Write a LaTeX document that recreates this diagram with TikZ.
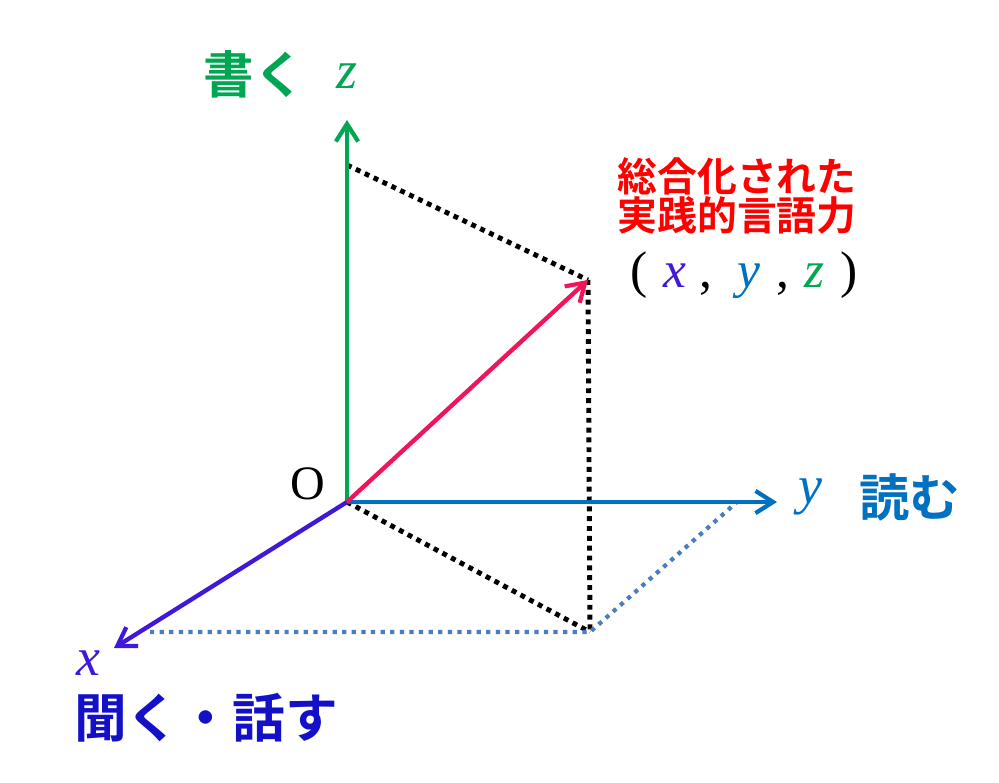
\documentclass[tikz,border=0pt]{standalone}
\usepackage{fontspec}
\setmainfont{Liberation Serif}
\newfontfamily\jp{Noto Sans CJK JP}[BoldFont={Noto Sans CJK JP Bold}]
\usetikzlibrary{arrows.meta, positioning}
\definecolor{zgreen}{RGB}{0,166,81}
\definecolor{yblue}{RGB}{0,112,192}
\definecolor{xviolet}{RGB}{64,24,216}
\definecolor{kblue}{RGB}{20,16,200}
\definecolor{vecred}{RGB}{240,20,90}
\definecolor{dotblue}{RGB}{74,126,187}
\tikzstyle{axis} = [line width=3.7pt, -{Straight Barb[length=15pt,width=19pt,line width=3.6pt]}]
\tikzstyle{guide} = [line width=4.2pt, dash pattern=on 4.2pt off 4.2pt, black]
\tikzstyle{guideb} = [guide, dotblue, line width=3.6pt, dash pattern=on 3.6pt off 4.6pt]
\tikzstyle{word} = [font=\jp\bfseries\fontsize{43}{50}\selectfont, inner sep=0pt]
\tikzstyle{var} = [font=\fontsize{46}{50}\selectfont\itshape, inner sep=0pt]
\begin{document}
\begin{tikzpicture}[x=0.03cm, y=-0.03cm]
				\useasboundingbox (0,0) rectangle (999,783);
				\coordinate (o) at (347,502);
				\coordinate (ztip) at (347,120);
				\coordinate (ytip) at (777,502);
				\coordinate (xtip) at (114,648);
				\coordinate (zfoot) at (347,165);
				\coordinate (p) at (588,280);
				\coordinate (q) at (590,632);
				\coordinate (xfoot) at (150,632);
				\coordinate (yfoot) at (737,502);
				% projections
				\draw [guide] (zfoot) -- (p);
				\draw [guide] (p) -- (q);
				\draw [guide] (o) -- (q);
				\draw [guideb] (xfoot) -- (q) -- (yfoot);
				% axes and vector
				\draw [axis, zgreen] (o) -- (ztip);
				\draw [axis, yblue] (o) -- (ytip);
				\draw [axis, xviolet] (o) -- (xtip);
				\draw [axis, vecred] (o) -- (p);
				% labels
				\node (origin)[font=\fontsize{41}{44}\selectfont, inner sep=0pt] at (308,484) {O};
				\node (zvar)[var, zgreen] at (347,76) {z};
				\node (write)[word, zgreen] at (254,74) {書く};
				\node (yvar)[var, yblue] at (810,497) {y};
				\node (read)[word, yblue, right=1.1cm of yvar] {読む};
				\node (xvar)[var, xviolet] at (88,663) {x};
				\node (speak)[word, kblue, font=\jp\bfseries\fontsize{45}{50}\selectfont] at (206,718) {聞く・話す};
				\node (goal)[word, red, align=center, font=\jp\bfseries\fontsize{34}{32}\selectfont] at (737,196) {総合化された\\実践的言語力};
				\node (point)[inner sep=0pt, font=\fontsize{44}{48}\selectfont] at (744,275) {(\hspace{0.3em}\textcolor{xviolet}{\textit{x}}\hspace{0.25em},\hspace{0.5em}\textcolor{yblue}{\textit{y}}\hspace{0.3em},\hspace{0.3em}\textcolor{zgreen}{\textit{z}}\hspace{0.3em})};
			\end{tikzpicture}
\end{document}
